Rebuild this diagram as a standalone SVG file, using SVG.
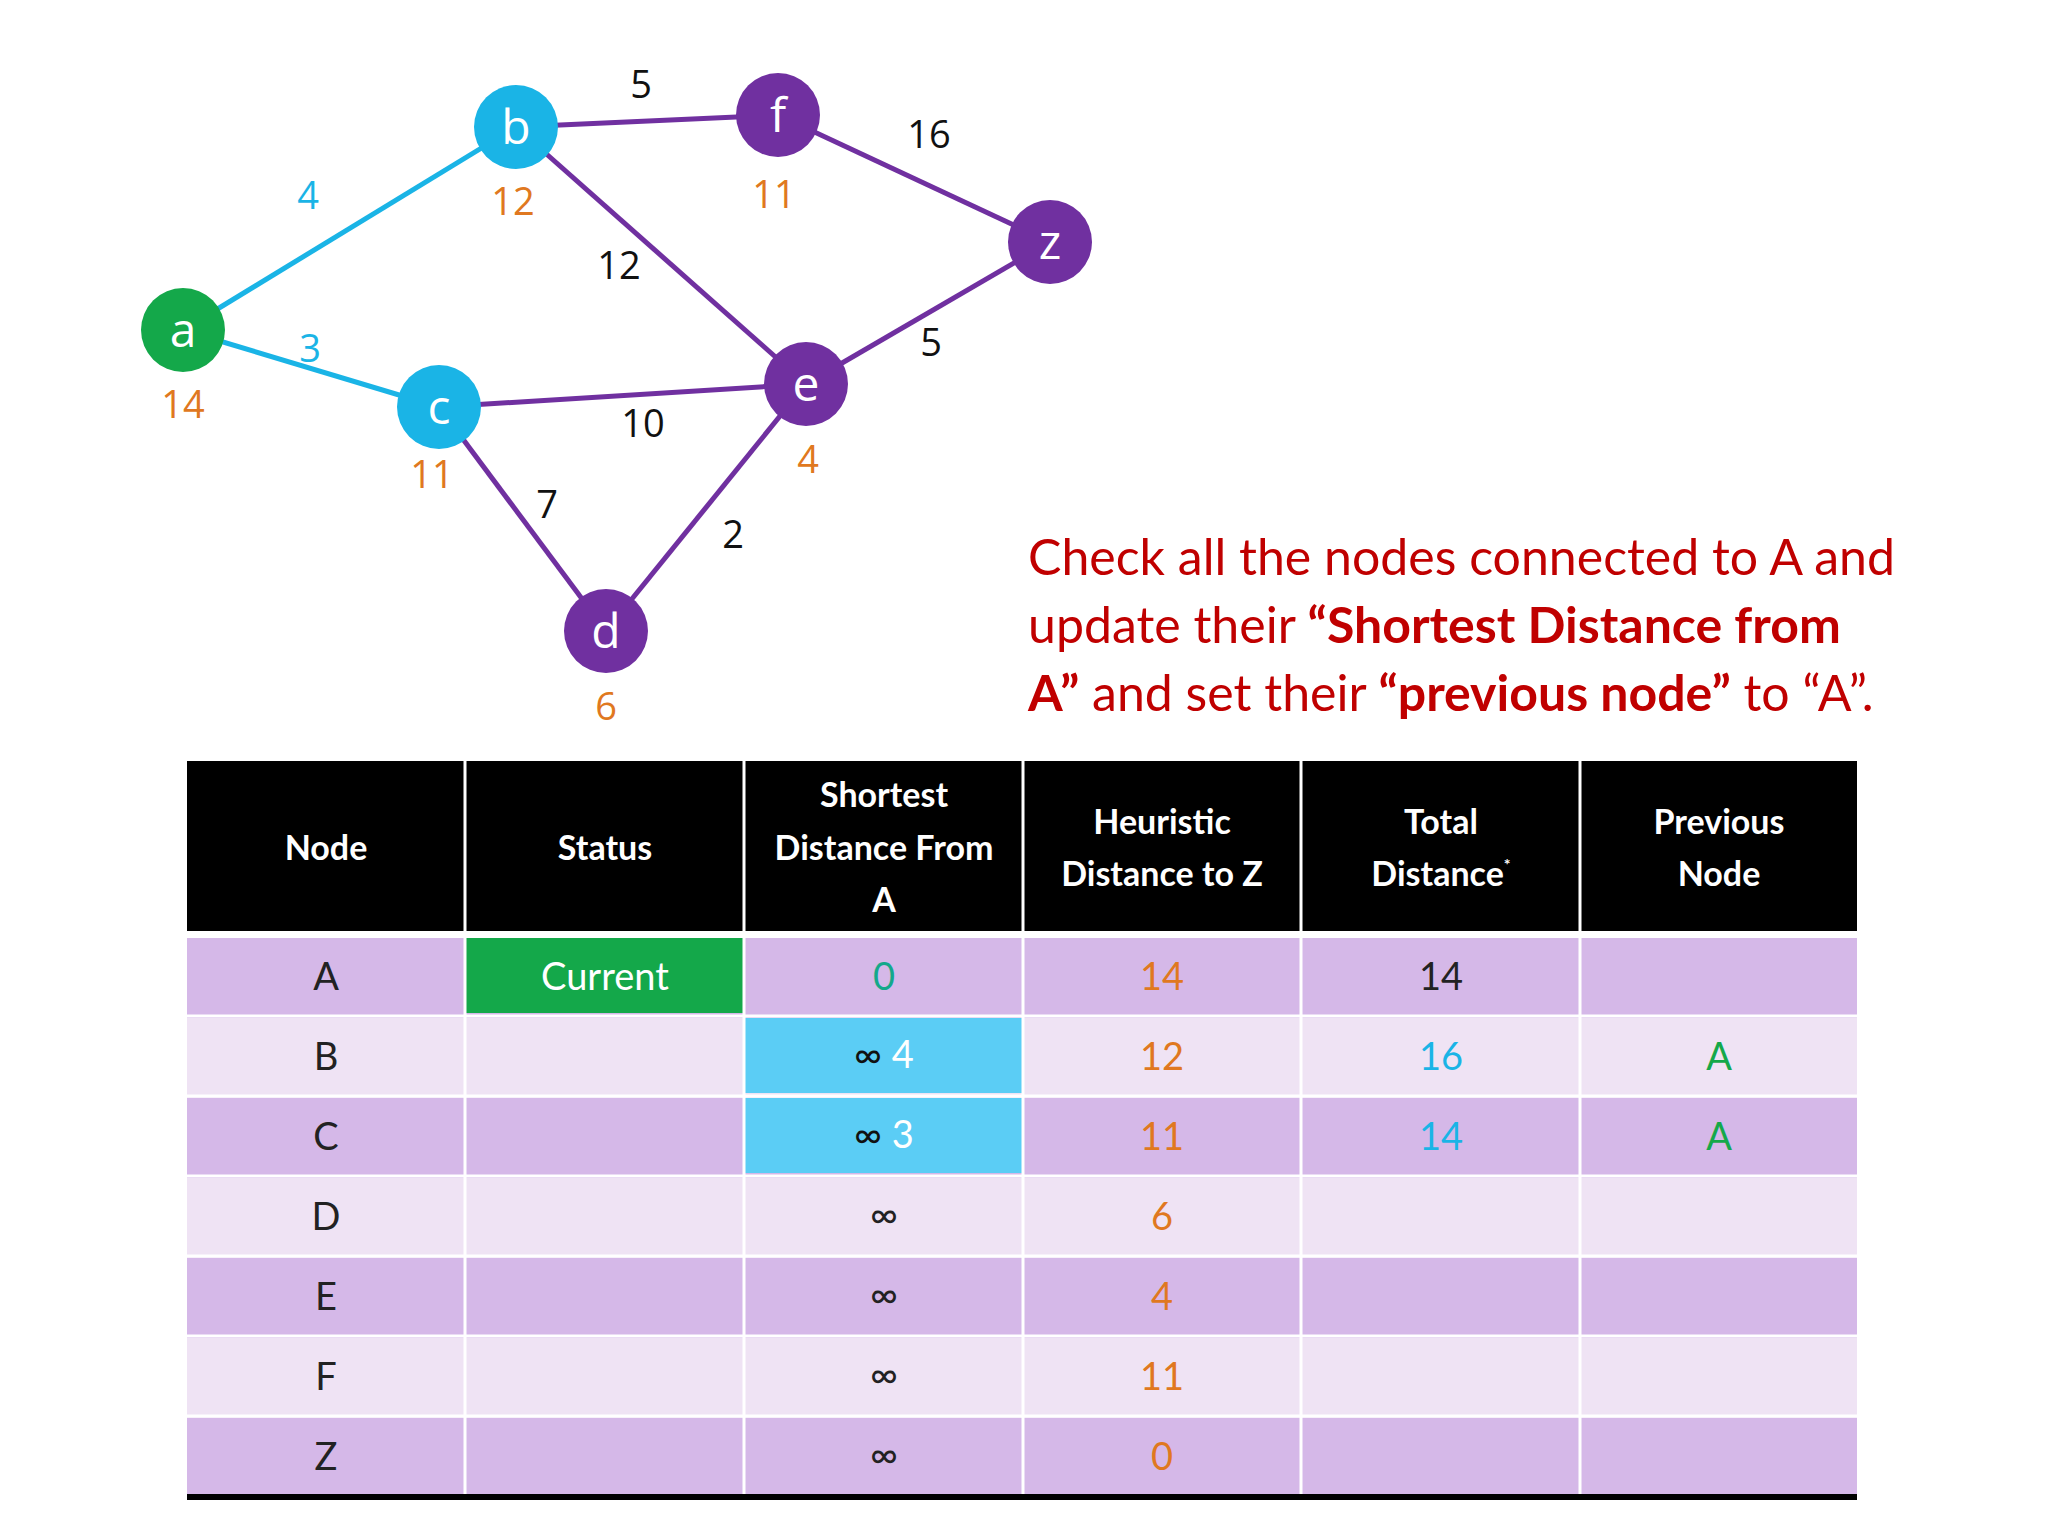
<svg xmlns="http://www.w3.org/2000/svg" width="2048" height="1536" viewBox="0 0 2048 1536">
<style>
.e{stroke-width:5;fill:none}
.bl{stroke:#1ab4e6}.pu{stroke:#7030a0}
.nl{font-family:"Open Sans","Liberation Sans",sans-serif;font-size:48px;fill:#fff;text-anchor:middle}
.w{font-family:"Open Sans","Liberation Sans",sans-serif;font-size:38px;text-anchor:middle;fill:#111}
.h{fill:#e07820}
.t{font-family:"Lato","Liberation Sans",sans-serif;font-size:38px;text-anchor:middle}
.hd{font-family:"Lato","Liberation Sans",sans-serif;font-size:34px;font-weight:bold;fill:#fff;text-anchor:middle}
.r{font-family:"Lato","Liberation Sans",sans-serif;font-size:50px;fill:#c00000}
</style>
<rect width="2048" height="1536" fill="#fff"/>
<g id="connectors">
<line class="e bl" x1="183" y1="330" x2="516" y2="127"/>
<line class="e bl" x1="183" y1="330" x2="439" y2="407"/>
<line class="e pu" x1="516" y1="127" x2="778" y2="115"/>
<line class="e pu" x1="516" y1="127" x2="806" y2="384"/>
<line class="e pu" x1="778" y1="115" x2="1050" y2="242"/>
<line class="e pu" x1="439" y1="407" x2="806" y2="384"/>
<line class="e pu" x1="439" y1="407" x2="606" y2="631"/>
<line class="e pu" x1="806" y1="384" x2="606" y2="631"/>
<line class="e pu" x1="806" y1="384" x2="1050" y2="242"/>
<text class="w" x="308" y="209" fill="#1ab4e6" style="fill:#1ab4e6">4</text>
<text class="w" x="310" y="362" style="fill:#1ab4e6">3</text>
<text class="w" x="641" y="98">5</text>
<text class="w" x="929" y="148">16</text>
<text class="w" x="619" y="279">12</text>
<text class="w" x="931" y="356">5</text>
<text class="w" x="643" y="437">10</text>
<text class="w" x="547" y="518">7</text>
<text class="w" x="733" y="548">2</text>
</g>
<g id="node-a"><circle cx="183" cy="330" r="42" fill="#14a84a"/><text class="nl" x="183" y="347">a</text><text class="w h" x="183" y="418">14</text></g>
<g id="node-b"><circle cx="516" cy="127" r="42" fill="#1ab4e6"/><text class="nl" x="516" y="144">b</text><text class="w h" x="513" y="215">12</text></g>
<g id="node-f"><circle cx="778" cy="115" r="42" fill="#7030a0"/><text class="nl" x="778" y="132">f</text><text class="w h" x="774" y="208">11</text></g>
<g id="node-z"><circle cx="1050" cy="242" r="42" fill="#7030a0"/><text class="nl" x="1050" y="259">z</text></g>
<g id="node-c"><circle cx="439" cy="407" r="42" fill="#1ab4e6"/><text class="nl" x="439" y="424">c</text><text class="w h" x="432" y="488">11</text></g>
<g id="node-e"><circle cx="806" cy="384" r="42" fill="#7030a0"/><text class="nl" x="806" y="401">e</text><text class="w h" x="808" y="473">4</text></g>
<g id="node-d"><circle cx="606" cy="631" r="42" fill="#7030a0"/><text class="nl" x="606" y="648">d</text><text class="w h" x="606" y="720">6</text></g>
<g id="note">
<text class="r" x="1028" y="575">Check all the nodes connected to A and</text>
<text class="r" x="1028" y="643">update their <tspan font-weight="bold">“Shortest Distance from</tspan></text>
<text class="r" x="1028" y="711"><tspan font-weight="bold">A”</tspan> and set their <tspan font-weight="bold">“previous node”</tspan> to “A”.</text>
</g>
<g id="table">
<rect x="187" y="761" width="1670" height="170" fill="#000"/>
<rect x="187" y="938" width="1670" height="80" fill="#d5b8e8"/>
<rect x="187" y="1018" width="1670" height="80" fill="#efe3f4"/>
<rect x="187" y="1098" width="1670" height="80" fill="#d5b8e8"/>
<rect x="187" y="1178" width="1670" height="80" fill="#efe3f4"/>
<rect x="187" y="1258" width="1670" height="80" fill="#d5b8e8"/>
<rect x="187" y="1338" width="1670" height="80" fill="#efe3f4"/>
<rect x="187" y="1418" width="1670" height="76" fill="#d5b8e8"/>
<rect x="465" y="938" width="279" height="75" fill="#14a84a"/>
<rect x="744" y="1018" width="279" height="75" fill="#5bcdf5"/>
<rect x="744" y="1098" width="279" height="75" fill="#5bcdf5"/>
<rect x="187" y="1494" width="1670" height="6" fill="#000"/>
<g stroke="#fff" stroke-width="3">
<line x1="465" y1="761" x2="465" y2="1494"/><line x1="744" y1="761" x2="744" y2="1494"/><line x1="1023" y1="761" x2="1023" y2="1494"/><line x1="1301" y1="761" x2="1301" y2="1494"/><line x1="1580" y1="761" x2="1580" y2="1494"/>
<line x1="187" y1="1016" x2="1857" y2="1016"/><line x1="187" y1="1096" x2="1857" y2="1096"/><line x1="187" y1="1176" x2="1857" y2="1176"/><line x1="187" y1="1256" x2="1857" y2="1256"/><line x1="187" y1="1336" x2="1857" y2="1336"/><line x1="187" y1="1416" x2="1857" y2="1416"/>
</g>
<text class="hd" x="326" y="860">Node</text>
<text class="hd" x="605" y="860">Status</text>
<text class="hd" x="884" y="807">Shortest</text><text class="hd" x="884" y="860">Distance From</text><text class="hd" x="884" y="912">A</text>
<text class="hd" x="1162" y="834">Heuristic</text><text class="hd" x="1162" y="886">Distance to Z</text>
<text class="hd" x="1441" y="834">Total</text><text class="hd" x="1441" y="886">Distance<tspan font-size="16" dy="-16">*</tspan></text>
<text class="hd" x="1719" y="834">Previous</text><text class="hd" x="1719" y="886">Node</text>
<g class="t" fill="#222">
<text x="326" y="990">A</text><text x="326" y="1070">B</text><text x="326" y="1150">C</text><text x="326" y="1230">D</text><text x="326" y="1310">E</text><text x="326" y="1390">F</text><text x="326" y="1470">Z</text>
<text x="605" y="990" fill="#fff">Current</text>
<text x="884" y="990" fill="#14a88a">0</text>
<text x="884" y="1068"><tspan fill="#111">∞</tspan><tspan fill="#fff"> 4</tspan></text>
<text x="884" y="1148"><tspan fill="#111">∞</tspan><tspan fill="#fff"> 3</tspan></text>
<text x="884" y="1228">∞</text><text x="884" y="1308">∞</text><text x="884" y="1388">∞</text><text x="884" y="1468">∞</text>
<g fill="#e07820"><text x="1162" y="990">14</text><text x="1162" y="1070">12</text><text x="1162" y="1150">11</text><text x="1162" y="1230">6</text><text x="1162" y="1310">4</text><text x="1162" y="1390">11</text><text x="1162" y="1470">0</text></g>
<text x="1441" y="990">14</text>
<text x="1441" y="1070" fill="#1ab4e6">16</text><text x="1441" y="1150" fill="#1ab4e6">14</text>
<text x="1719" y="1070" fill="#14a84a">A</text><text x="1719" y="1150" fill="#14a84a">A</text>
</g>
</g>
</svg>
